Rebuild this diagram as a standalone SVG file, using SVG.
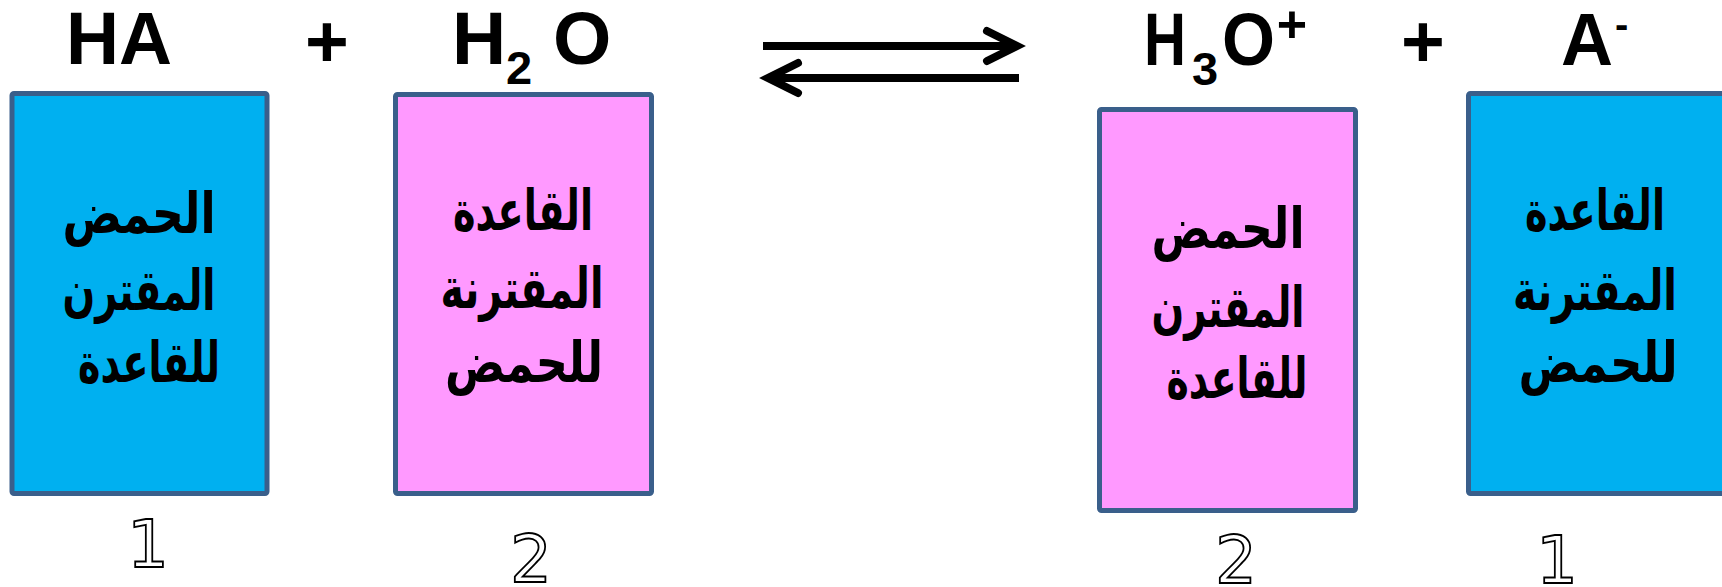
<svg xmlns="http://www.w3.org/2000/svg" width="1722" height="587" viewBox="0 0 1722 587">
<style>
.box{stroke:#3A5F8B;stroke-width:5}
.acid{fill:#00B0F0}
.base{fill:#FF99FF}
.f{font-family:"Liberation Sans",Arial,sans-serif;font-weight:bold;fill:#000}
.ar{font-family:"Liberation Sans","DejaVu Sans",Arial,sans-serif;font-weight:bold;font-size:56px;fill:#000;text-anchor:middle}
.num{font-family:"DejaVu Sans",sans-serif;font-size:66px;fill:#fff;stroke:#000;stroke-width:1.8;text-anchor:middle}
.arr{fill:none;stroke:#000;stroke-width:8}
</style>
<rect width="1722" height="587" fill="#fff"/>
<g id="connectors">
<line class="arr" x1="763" y1="46" x2="1014" y2="46"/>
<polyline class="arr" points="987,31 1017,46 987,61" stroke-linecap="round"/>
<line class="arr" x1="770" y1="78" x2="1019" y2="78"/>
<polyline class="arr" points="798,63 768,78 798,93" stroke-linecap="round"/>
</g>
<g id="plus-labels">
<text class="f" x="327" y="67" font-size="75" text-anchor="middle">+</text>
<text class="f" x="1423" y="67" font-size="75" text-anchor="middle">+</text>
</g>
<g id="node-HA">
<text class="f" x="66" y="64" font-size="75" textLength="106" lengthAdjust="spacingAndGlyphs">HA</text>
<rect class="box acid" x="12" y="93.5" width="255" height="400" rx="2"/>
<text class="ar" x="139" y="233" textLength="153" lengthAdjust="spacingAndGlyphs">الحمض</text>
<text class="ar" x="139" y="310" textLength="153" lengthAdjust="spacingAndGlyphs">المقترن</text>
<text class="ar" x="149" y="382" textLength="142" lengthAdjust="spacingAndGlyphs">للقاعدة</text>
<text class="num" x="148" y="567">1</text>
</g>
<g id="node-H2O">
<text class="f" x="452" y="64" font-size="75">H</text>
<text class="f" x="506" y="84" font-size="47">2</text>
<text class="f" x="553" y="64" font-size="75">O</text>
<rect class="box base" x="395.5" y="94.5" width="256" height="399" rx="2"/>
<text class="ar" x="523" y="230" textLength="140" lengthAdjust="spacingAndGlyphs">القاعدة</text>
<text class="ar" x="522" y="308" textLength="163" lengthAdjust="spacingAndGlyphs">المقترنة</text>
<text class="ar" x="524" y="382" textLength="158" lengthAdjust="spacingAndGlyphs">للحمض</text>
<text class="num" x="531" y="582">2</text>
</g>
<g id="node-H3O">
<text class="f" x="1144" y="65" font-size="75" textLength="42" lengthAdjust="spacingAndGlyphs">H</text>
<text class="f" x="1192" y="85" font-size="47">3</text>
<text class="f" x="1222" y="65" font-size="75" textLength="53" lengthAdjust="spacingAndGlyphs">O</text>
<text class="f" x="1292" y="42" font-size="52" text-anchor="middle">+</text>
<rect class="box base" x="1099.5" y="109.5" width="256" height="401" rx="2"/>
<text class="ar" x="1228" y="248" textLength="153" lengthAdjust="spacingAndGlyphs">الحمض</text>
<text class="ar" x="1228" y="327" textLength="153" lengthAdjust="spacingAndGlyphs">المقترن</text>
<text class="ar" x="1237" y="398" textLength="141" lengthAdjust="spacingAndGlyphs">للقاعدة</text>
<text class="num" x="1236" y="583">2</text>
</g>
<g id="node-A">
<text class="f" x="1561" y="65" font-size="75" textLength="52" lengthAdjust="spacingAndGlyphs">A</text>
<text class="f" x="1615" y="38" font-size="40">-</text>
<rect class="box acid" x="1468.5" y="93.5" width="270" height="400" rx="2"/>
<text class="ar" x="1595" y="230" textLength="140" lengthAdjust="spacingAndGlyphs">القاعدة</text>
<text class="ar" x="1595" y="310" textLength="164" lengthAdjust="spacingAndGlyphs">المقترنة</text>
<text class="ar" x="1598" y="382" textLength="159" lengthAdjust="spacingAndGlyphs">للحمض</text>
<text class="num" x="1557" y="583">1</text>
</g>
</svg>
